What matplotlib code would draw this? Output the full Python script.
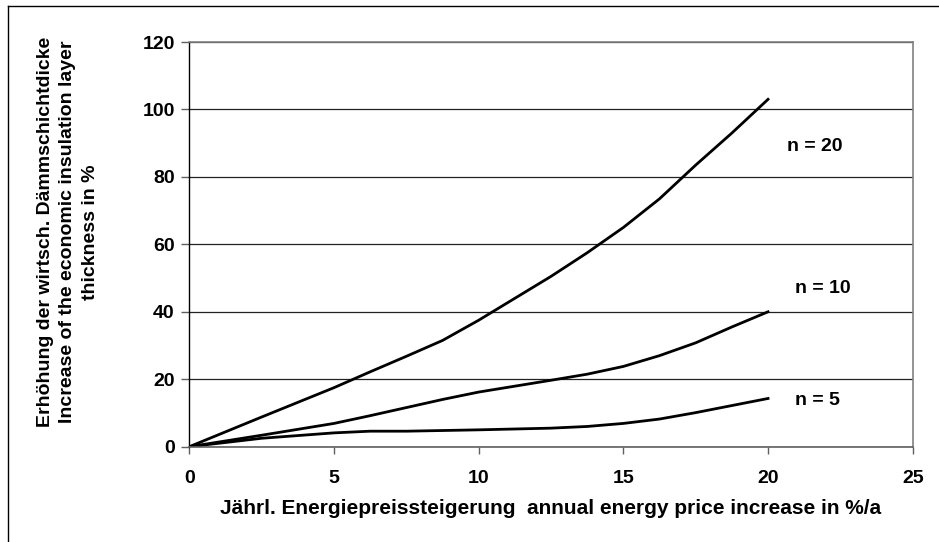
import numpy as np
import matplotlib.pyplot as plt
from matplotlib.lines import Line2D

plt.rcParams['font.family'] = ['Liberation Sans', 'DejaVu Sans']
plt.rcParams['font.weight'] = 'bold'

# Jährl. Energiepreissteigerung in %/a
x = [0, 2.5, 5, 6.25, 7.5, 8.75, 10, 12.5, 13.75, 15, 16.25, 17.5, 18.75, 20]

# Erhöhung der wirtsch. Dämmschichtdicke in %
n20 = [0, 8.8, 17.5, 22.2, 26.8, 31.5, 37.5, 50.5, 57.5, 65, 73.5, 83.5, 93, 103]
n10 = [0, 3.4, 6.9, 9.2, 11.6, 14.0, 16.2, 19.7, 21.5, 23.8, 27.0, 30.8, 35.5, 40]
n5 = [0, 2.5, 4.1, 4.6, 4.6, 4.8, 5.0, 5.5, 6.0, 6.9, 8.2, 10.1, 12.2, 14.3]

labels = ['n = 20', 'n = 10', 'n = 5']
label_x = [21.6, 21.9, 21.7]
label_y = [89, 47, 13.6]

fs = 14

fig = plt.figure(figsize=(9.39, 5.42), dpi=100)
ax = fig.add_axes([189.3 / 939, 1 - 446.7 / 542, (912.7 - 189.3) / 939, (446.7 - 42) / 542])

for ys in [n20, n10, n5]:
    ax.plot(x, ys, color='black', lw=2.0, solid_joinstyle='round')

for lab, lx, ly in zip(labels, label_x, label_y):
    ax.text(lx, ly, lab, ha='center', va='center', fontsize=fs, fontweight='bold')

ax.set_xlim(0, 25)
ax.set_ylim(0, 120)
ax.set_xticks(np.arange(0, 26, 5))
ax.set_yticks(np.arange(0, 121, 20))
ax.yaxis.grid(True, color='#222222', lw=0.9)
ax.set_axisbelow(True)

for s in ['top', 'right']:
    ax.spines[s].set_color('#808080')
    ax.spines[s].set_linewidth(1.2)
ax.spines['bottom'].set_color('#606060')
ax.spines['bottom'].set_linewidth(1.2)
ax.spines['left'].set_color('black')
ax.spines['left'].set_linewidth(1.0)

ax.tick_params(axis='both', direction='out', width=1, color='#606060', labelsize=fs)
ax.tick_params(axis='y', length=6, pad=4.5)
ax.tick_params(axis='x', length=5, pad=12)
for t in ax.get_xticklabels() + ax.get_yticklabels():
    t.set_fontweight('bold')

fig.text(0.5 * (189.3 + 912.7) / 939, 1 - 508 / 542,
         'Jährl. Energiepreissteigerung  annual energy price increase in %/a',
         ha='center', va='center', fontsize=15, fontweight='bold')

fig.text(68 / 939, 1 - 232 / 542,
         'Erhöhung der wirtsch. Dämmschichtdicke\nIncrease of the economic insulation layer\nthickness in %',
         ha='center', va='center', rotation=90, fontsize=fs, fontweight='bold',
         linespacing=1.4)

# outer frame (top and left only)
fig.add_artist(Line2D([7.5 / 939, 7.5 / 939], [0, 1 - 5.5 / 542], color='black', lw=1.0))
fig.add_artist(Line2D([7.5 / 939, 1], [1 - 5.5 / 542, 1 - 5.5 / 542], color='black', lw=1.0))

fig.savefig('out.png', dpi=100)
